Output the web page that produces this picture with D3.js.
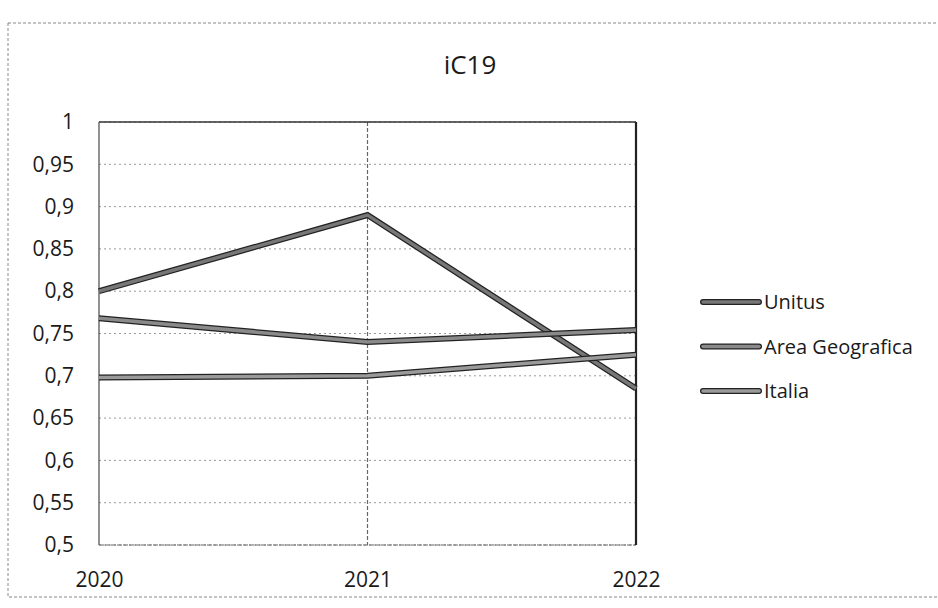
<!DOCTYPE html>
<html>
<head>
<meta charset="utf-8">
<script src="https://cdn.jsdelivr.net/npm/d3@7"></script>
<style>
  body { margin: 0; background: #fff; }
  text { font-family: "Open Sans", "Noto Sans", sans-serif; fill: #1a1a1a; }
</style>
</head>
<body>
<div id="chart-area"></div>
<script>
// data
var years = [2020, 2021, 2022];
var seriesNames = ["Unitus", "Area Geografica", "Italia"];
var unitus = [0.80, 0.89, 0.685];
var areaGeografica = [0.768, 0.74, 0.754];
var italia = [0.698, 0.70, 0.725];
var yTicks = [0.5, 0.55, 0.6, 0.65, 0.7, 0.75, 0.8, 0.85, 0.9, 0.95, 1];

var series = [
	{ name: seriesNames[0], values: unitus, color: "#777" },
	{ name: seriesNames[1], values: areaGeografica, color: "#8a8a8a" },
	{ name: seriesNames[2], values: italia, color: "#9a9a9a" }
];

var W = 938, H = 608;
var margins = { top: 122, left: 99, right: 302, bottom: 63 };
var width = W - margins.left - margins.right;
var height = H - margins.top - margins.bottom;

var svg = d3.select("#chart-area")
	.append("svg")
		.attr("width", W)
		.attr("height", H);

// outer dotted frame of the scanned chart
svg.append("rect")
	.attr("x", 8).attr("y", 23)
	.attr("width", 960).attr("height", 574)
	.attr("fill", "none")
	.attr("stroke", "#888")
	.attr("stroke-width", 1)
	.attr("stroke-dasharray", "3,2");

svg.append("text")
	.attr("x", 470)
	.attr("y", 74)
	.attr("font-size", "26px")
	.attr("text-anchor", "middle")
	.text("iC19");

var g = svg.append("g")
	.attr("transform", `translate(${margins.left}, ${margins.top})`);

var x = d3.scalePoint()
	.domain(years)
	.range([0, width]);

var y = d3.scaleLinear()
	.domain([0.5, 1])
	.range([height, 0]);

// gridlines
g.append("g")
	.selectAll("line")
	.data(yTicks)
	.enter().append("line")
		.attr("x1", 0).attr("x2", width)
		.attr("y1", d => y(d)).attr("y2", d => y(d))
		.attr("stroke", "#9a9a9a")
		.attr("stroke-width", 1)
		.attr("stroke-dasharray", "2,3");

g.append("line")
	.attr("x1", x(2021)).attr("x2", x(2021))
	.attr("y1", 0).attr("y2", height)
	.attr("stroke", "#666")
	.attr("stroke-width", 1.2)
	.attr("stroke-dasharray", "4,2");

// frame of the plot
g.append("line").attr("x1", 0).attr("x2", width).attr("y1", 0).attr("y2", 0)
	.attr("stroke", "#333").attr("stroke-width", 1.5);
g.append("line").attr("x1", 0).attr("x2", width).attr("y1", height).attr("y2", height)
	.attr("stroke", "#666").attr("stroke-width", 1.2).attr("stroke-dasharray", "5,1");
g.append("line").attr("x1", 0).attr("x2", 0).attr("y1", 0).attr("y2", height)
	.attr("stroke", "#555").attr("stroke-width", 1.3);
g.append("line").attr("x1", width).attr("x2", width).attr("y1", 0).attr("y2", height)
	.attr("stroke", "#222").attr("stroke-width", 2.2);

// axes (labels only)
var yAxisCall = d3.axisLeft(y)
	.tickValues(yTicks)
	.tickSize(0)
	.tickPadding(25)
	.tickFormat(d => String(d).replace(".", ","));
var yAxisGroup = g.append("g").call(yAxisCall);
yAxisGroup.select(".domain").remove();
yAxisGroup.selectAll("text")
	.attr("font-size", "21px")
	.attr("fill", "#1a1a1a");

var xAxisCall = d3.axisBottom(x).tickSize(0).tickPadding(27);
var xAxisGroup = g.append("g")
	.attr("transform", `translate(0, ${height})`)
	.call(xAxisCall);
xAxisGroup.select(".domain").remove();
xAxisGroup.selectAll("text")
	.attr("font-size", "21px")
	.attr("fill", "#1a1a1a");

// lines
var line = d3.line()
	.x((d, i) => x(years[i]))
	.y(d => y(d));

var lineGroups = g.selectAll(".series")
	.data(series)
	.enter().append("g")
		.attr("class", "series");

lineGroups.append("path")
	.attr("d", d => line(d.values))
	.attr("fill", "none")
	.attr("stroke", "#222")
	.attr("stroke-width", 6);

lineGroups.append("path")
	.attr("d", d => line(d.values))
	.attr("fill", "none")
	.attr("stroke", d => d.color)
	.attr("stroke-width", 3.5);

// legend
var legend = svg.append("g")
	.attr("transform", "translate(703, 302)");

var items = legend.selectAll(".item")
	.data(series)
	.enter().append("g")
		.attr("class", "item")
		.attr("transform", (d, i) => `translate(0, ${i * 44.5})`);

items.append("line")
	.attr("x1", 0).attr("x2", 56)
	.attr("stroke", "#222").attr("stroke-width", 6)
	.attr("stroke-linecap", "round");
items.append("line")
	.attr("x1", 0).attr("x2", 56)
	.attr("stroke", d => d.color).attr("stroke-width", 3.5)
	.attr("stroke-linecap", "round");

items.append("text")
	.attr("x", 61)
	.attr("y", 0)
	.attr("dy", "0.35em")
	.attr("font-size", "20px")
	.text(d => d.name);
</script>
</body>
</html>
